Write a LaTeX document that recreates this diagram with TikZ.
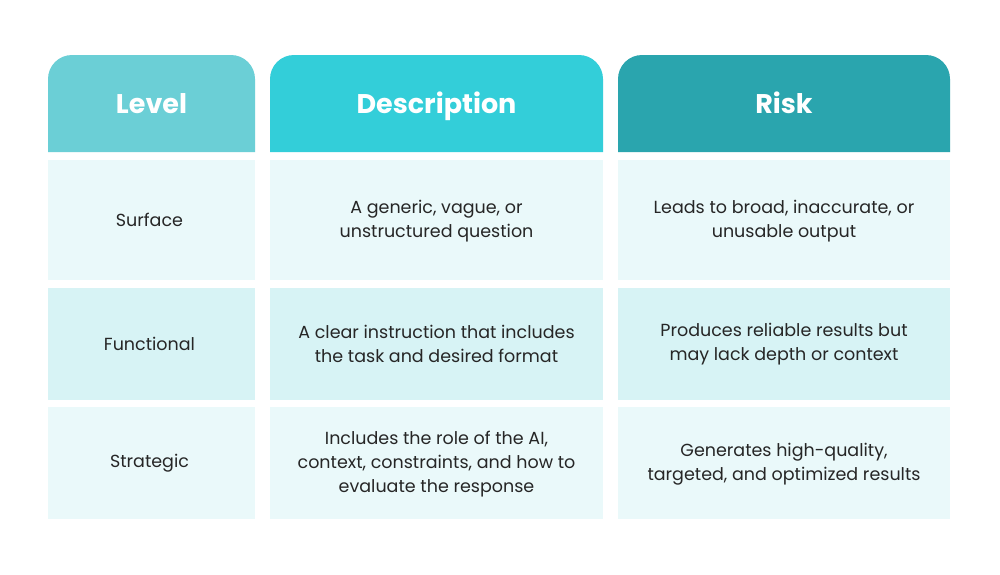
\documentclass[tikz,border=0pt]{standalone}
\usepackage{fontspec}
\setmainfont{Poppins}
\begin{document}
\begin{tikzpicture}[x=1pt,y=-1pt,
 hd/.style={rounded corners=24pt},
 ht/.style={text=white,font=\fontsize{27}{30}\selectfont\bfseries,text height=20pt,text depth=6pt},
 bt/.style={align=center,font=\fontsize{17.5}{24}\selectfont,text=black!85}]
\definecolor{c1}{HTML}{6BCFD6}\definecolor{c2}{HTML}{33CED9}\definecolor{c3}{HTML}{2AA5AE}
\definecolor{ra}{HTML}{EAF9FA}\definecolor{rb}{HTML}{D7F3F5}
\useasboundingbox (0,0) rectangle (1000,574);
\fill[white] (0,0) rectangle (1000,574);
% headers
\fill[c1] (48,152) [hd] -- (48,55) -- (255,55) [sharp corners] -- (255,152) -- cycle;
\fill[c2] (270,152) [hd] -- (270,55) -- (603,55) [sharp corners] -- (603,152) -- cycle;
\fill[c3] (618,152) [hd] -- (618,55) -- (950,55) [sharp corners] -- (950,152) -- cycle;
\node[ht] (h1) at (151.5,106) {Level};
\node[ht] (h2) at (436.5,106) {Description};
\node[ht] (h3) at (784,106) {Risk};
% rows
\foreach \ya/\yb/\c in {160/280/ra,288/400/rb,407/519/ra}{
 \fill[\c] (48,\ya) rectangle (255,\yb);
 \fill[\c] (270,\ya) rectangle (603,\yb);
 \fill[\c] (618,\ya) rectangle (950,\yb);}
\node[bt] (a1) at (149.5,220) {Surface};
\node[bt] (b1) at (436.5,221) {A generic, vague, or\\unstructured question};
\node[bt] (c1n) at (784,221) {Leads to broad, inaccurate, or\\unusable output};
\node[bt] (a2) at (149.5,344) {Functional};
\node[bt] (b2) at (436.5,344) {A clear instruction that includes\\the task and desired format};
\node[bt] (c2n) at (784,344) {Produces reliable results but\\may lack depth or context};
\node[bt] (a3) at (149.5,463) {Strategic};
\node[bt] (b3) at (436.5,464) {Includes the role of the AI,\\context, constraints, and how to\\evaluate the response};
\node[bt] (c3n) at (784,464) {Generates high-quality,\\targeted, and optimized results};
\end{tikzpicture}
\end{document}
